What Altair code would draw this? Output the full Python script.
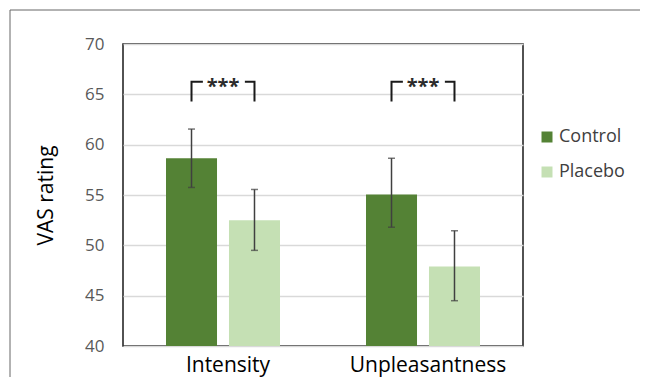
import altair as alt
import pandas as pd

categories = ["Intensity", "Intensity", "Unpleasantness", "Unpleasantness"]
groups = ["Control", "Placebo", "Control", "Placebo"]
means = [58.65, 52.5, 55.05, 47.9]
err_low = [55.75, 49.5, 51.8, 44.5]
err_high = [61.55, 55.55, 58.65, 51.45]

sig_categories = ["Intensity", "Unpleasantness"]
sig_labels = ["***", "***"]
bracket_low = 64.3
bracket_high = 66.25

group_names = ["Control", "Placebo"]
group_colors = ["#548235", "#C5E0B4"]

FONT = "Open Sans"

df = pd.DataFrame({"category": categories, "group": groups, "mean": means,
                   "lo": err_low, "hi": err_high})

rows = []
for c in sig_categories:
    rows += [
        {"category": c, "group": "Control", "v": bracket_low, "o": 0},
        {"category": c, "group": "Control", "v": bracket_high, "o": 1},
        {"category": c, "group": "Placebo", "v": bracket_high, "o": 2},
        {"category": c, "group": "Placebo", "v": bracket_low, "o": 3},
    ]
br = pd.DataFrame(rows)
sig = pd.DataFrame({"category": sig_categories, "label": sig_labels,
                    "v": [bracket_high] * len(sig_categories)})

x_enc = alt.X("category:N", title=None,
              scale=alt.Scale(paddingInner=0.43, paddingOuter=0.215),
              axis=alt.Axis(labelAngle=0, labelFontSize=21, labelFont=FONT,
                            labelColor="#000000", labelPadding=8, labelOffset=5,
                            ticks=False, tickSize=0, domain=False))
xo_enc = alt.XOffset("group:N", scale=alt.Scale(paddingInner=0.19, paddingOuter=0))
y_scale = alt.Scale(domain=[40, 70], nice=False, zero=False)

bars = alt.Chart(df).mark_bar().encode(
    x=x_enc,
    xOffset=xo_enc,
    y=alt.Y("mean:Q", scale=y_scale, title="VAS rating",
            axis=alt.Axis(values=[40, 45, 50, 55, 60, 65, 70], grid=True,
                          gridColor="#d9d9d9", gridWidth=1.3,
                          ticks=False, tickSize=0, domain=False,
                          labelFontSize=17, labelFont=FONT, labelColor="#595959",
                          labelPadding=19, titleFont=FONT, titleFontSize=21,
                          titleFontWeight="normal", titleColor="#000000",
                          titlePadding=28)),
    y2=alt.Y2(datum=40),
    color=alt.Color("group:N", title=None,
                    scale=alt.Scale(domain=group_names, range=group_colors),
                    legend=alt.Legend(orient="none", legendX=415, legendY=84,
                                      symbolType="square", symbolSize=121,
                                      symbolStrokeWidth=0, symbolOpacity=1,
                                      labelFontSize=18, labelFont=FONT,
                                      labelColor="#404040", labelOffset=3,
                                      rowPadding=17, padding=0)),
)

err_rule = alt.Chart(df).mark_rule(color="#404040", strokeWidth=1.5).encode(
    x="category:N", xOffset=xo_enc,
    y=alt.Y("lo:Q", scale=y_scale), y2="hi:Q")
cap_lo = alt.Chart(df).mark_tick(color="#404040", size=7, thickness=1.5).encode(
    x="category:N", xOffset=xo_enc, y=alt.Y("lo:Q", scale=y_scale))
cap_hi = alt.Chart(df).mark_tick(color="#404040", size=7, thickness=1.5).encode(
    x="category:N", xOffset=xo_enc, y=alt.Y("hi:Q", scale=y_scale))

brackets = alt.Chart(br).mark_line(color="#1a1a1a", strokeWidth=2,
                                   strokeDash=[31, 42, 31, 60]).encode(
    x="category:N", xOffset=xo_enc,
    y=alt.Y("v:Q", scale=y_scale),
    detail="category:N", order="o:Q")

stars = alt.Chart(sig).mark_text(fontSize=20, fontWeight="bold", font=FONT,
                                 color="#2b2b2b", baseline="middle", dy=5).encode(
    x="category:N", y=alt.Y("v:Q", scale=y_scale), text="label:N")

one = pd.DataFrame({"k": [0]})
frame_top = alt.Chart(one).mark_rule(color="#666666", strokeWidth=1).encode(
    x=alt.value(-113), x2=alt.value(517), y=alt.value(-34))
frame_left = alt.Chart(one).mark_rule(color="#666666", strokeWidth=1).encode(
    x=alt.value(-113), y=alt.value(-34), y2=alt.value(380))

chart = alt.layer(frame_top, frame_left, bars, err_rule, cap_lo, cap_hi,
                  brackets, stars).properties(
    width=400, height=302,
    padding={"left": 115, "top": 36, "right": 117, "bottom": 31},
    autosize=alt.AutoSizeParams(type="none"),
).configure_view(stroke="#1a1a1a", strokeWidth=1.5)

chart.save("out.html", embed_options={"renderer": "svg", "actions": False})
